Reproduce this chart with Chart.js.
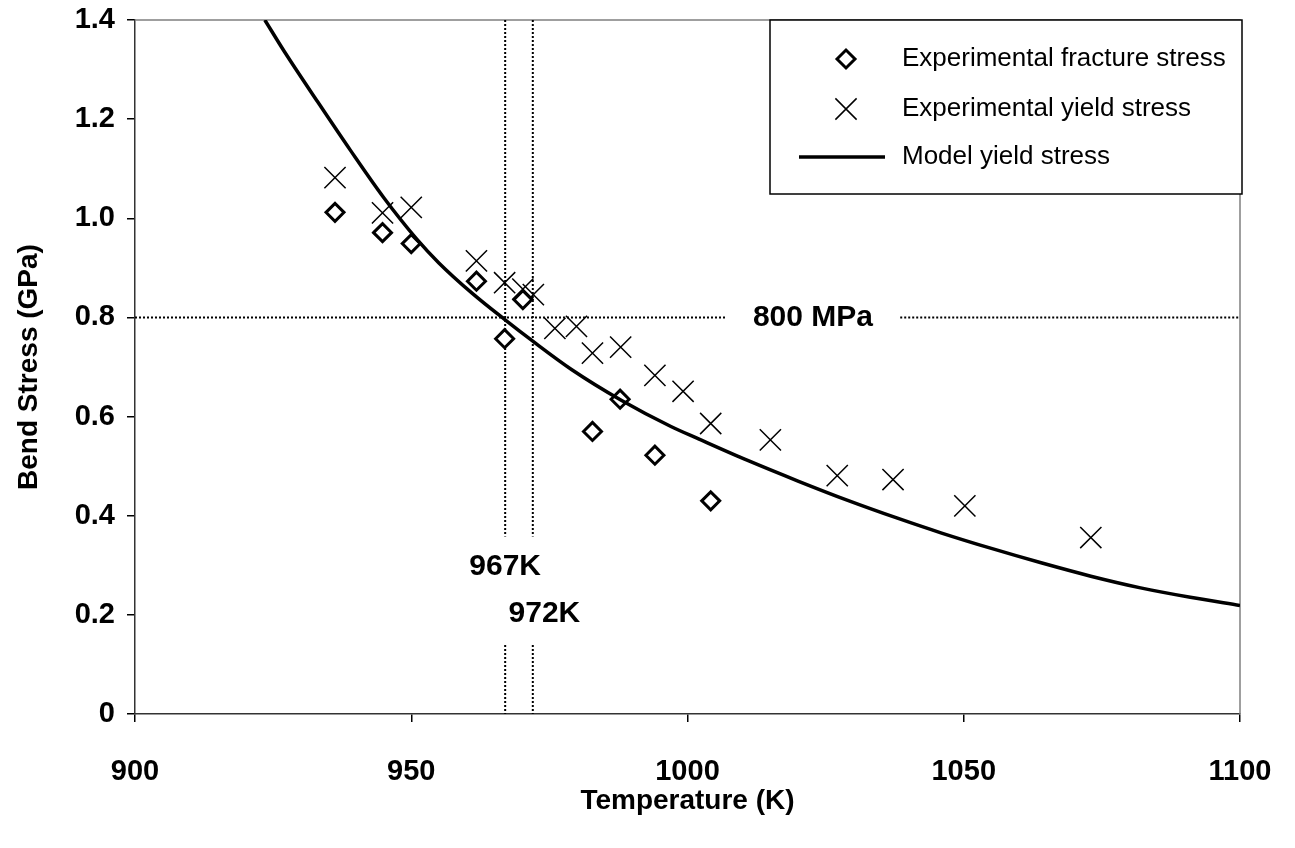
<!DOCTYPE html>
<html>
<head>
<meta charset="utf-8">
<script src="https://cdn.jsdelivr.net/npm/chart.js@4.4.0/dist/chart.umd.min.js"></script>
<style>
    html, body { margin: 0; padding: 0; background: #fff; }
    canvas { display: block; }
</style>
</head>
<body>
<canvas id="grafico" width="1295" height="848"></canvas>
<script>
// pontos
const fractureTemp = [936.2, 944.8, 950.0, 961.8, 966.9, 970.2, 982.8, 987.8, 994.1, 1004.2];
const fractureStress = [1.012, 0.971, 0.949, 0.873, 0.757, 0.836, 0.570, 0.635, 0.522, 0.430];

const yieldTemp = [936.2, 944.8, 950.0, 961.8, 966.9, 970.2, 972.1, 976.0, 979.9, 982.8,
    987.9, 994.1, 999.2, 1004.2, 1015.0, 1027.1, 1037.2, 1050.2, 1073.0];
const yieldStress = [1.082, 1.011, 1.022, 0.914, 0.870, 0.857, 0.846, 0.778, 0.782, 0.728,
    0.740, 0.683, 0.651, 0.586, 0.553, 0.481, 0.473, 0.420, 0.356];

const modelTemp = [923.5, 927, 933, 939, 945, 951, 955, 961, 967, 972, 979, 988, 997, 1002,
    1011, 1020, 1029, 1038, 1046, 1055, 1064, 1073, 1082, 1091, 1100];
const modelStress = [1.400, 1.337, 1.236, 1.137, 1.042, 0.958, 0.910, 0.849, 0.795, 0.752, 0.695,
    0.633, 0.580, 0.555, 0.511, 0.470, 0.431, 0.395, 0.365, 0.334, 0.305, 0.278, 0.2545, 0.2355, 0.219];

const refTemps = [967, 972];
const refStress = 0.8;

const xTicks = [900, 950, 1000, 1050, 1100];
const yTicks = [0, 0.2, 0.4, 0.6, 0.8, 1.0, 1.2, 1.4];

const FONTE = '"Liberation Sans", Arial, sans-serif';

function pares(xs, ys) {
    return xs.map((x, i) => ({ x: x, y: ys[i] }));
}

// linhas pontilhadas de referencia (com um buraco onde ficam os textos)
function linhaVertical(t) {
    return [{ x: t, y: 1.4 }, { x: t, y: 0.358 }, { x: t, y: null }, { x: t, y: 0.139 }, { x: t, y: 0 }];
}
const linhaHorizontal = [{ x: 900, y: refStress }, { x: 1007.1, y: refStress }, { x: 1020, y: null },
    { x: 1038.5, y: refStress }, { x: 1100, y: refStress }];

function pontilhado(dados) {
    return {
        label: 'ref',
        data: dados,
        showLine: true,
        spanGaps: false,
        borderColor: '#000',
        borderWidth: 2,
        borderDash: [2, 2],
        pointRadius: 0,
        order: 10,
    };
}

const textos = {
    id: 'textos',
    afterDatasetsDraw(chart) {
        const { ctx, scales: { x, y } } = chart;
        const itens = [
            { t: '800 MPa', x: 1022.7, y: refStress },
            { t: refTemps[0] + 'K', x: 967, y: 0.297 },
            { t: refTemps[1] + 'K', x: 974.1, y: 0.202 },
        ];
        ctx.save();
        ctx.font = 'bold 30px ' + FONTE;
        ctx.fillStyle = '#000';
        ctx.textAlign = 'center';
        ctx.textBaseline = 'middle';
        itens.forEach(it => ctx.fillText(it.t, x.getPixelForValue(it.x), y.getPixelForValue(it.y)));
        ctx.restore();
    }
};

const moldura = {
    id: 'moldura',
    beforeDatasetsDraw(chart) {
        const { ctx, chartArea: a } = chart;
        ctx.save();
        ctx.strokeStyle = '#808080';
        ctx.lineWidth = 1.5;
        ctx.beginPath();
        ctx.moveTo(a.left, a.top);
        ctx.lineTo(a.right, a.top);
        ctx.lineTo(a.right, a.bottom);
        ctx.stroke();
        ctx.restore();
    }
};

const legenda = {
    id: 'legenda',
    afterDraw(chart) {
        const ctx = chart.ctx;
        const linhas = [59, 109, 157];
        ctx.save();
        ctx.fillStyle = '#fff';
        ctx.fillRect(770, 20, 472, 174);
        ctx.strokeStyle = '#000';
        ctx.lineWidth = 1.5;
        ctx.strokeRect(770, 20, 472, 174);
        chart.data.datasets.filter(ds => ds.label !== 'ref').forEach((ds, i) => {
            const cy = linhas[i];
            ctx.strokeStyle = ds.borderColor;
            ctx.fillStyle = ds.backgroundColor || '#fff';
            ctx.lineWidth = ds.borderWidth;
            ctx.setLineDash([]);
            if (ds.showLine) {
                ctx.beginPath();
                ctx.moveTo(799, cy);
                ctx.lineTo(885, cy);
                ctx.stroke();
            } else {
                Chart.helpers.drawPoint(ctx, {
                    pointStyle: ds.pointStyle,
                    radius: ds.pointRadius,
                    borderWidth: ds.borderWidth,
                    rotation: 0,
                }, 846, cy);
            }
            ctx.fillStyle = '#000';
            ctx.font = '26px ' + FONTE;
            ctx.textAlign = 'left';
            ctx.textBaseline = 'middle';
            ctx.fillText(ds.label, 902, cy);
        });
        ctx.restore();
    }
};

// tira as margens automaticas das escalas para a area do grafico ficar fixa
function semMargens(scale) {
    scale.paddingLeft = 0;
    scale.paddingRight = 0;
    scale.paddingTop = 0;
    scale.paddingBottom = 0;
}

const canvas_grafico = document.getElementById('grafico');
const ctx = canvas_grafico.getContext('2d');

new Chart(ctx, {
    type: 'scatter',
    data: {
        datasets: [
            {
                label: 'Experimental fracture stress',
                data: pares(fractureTemp, fractureStress),
                pointStyle: 'rectRot',
                pointRadius: 9,
                borderWidth: 3,
                borderColor: '#000',
                backgroundColor: '#fff',
                order: 2,
            },
            {
                label: 'Experimental yield stress',
                data: pares(yieldTemp, yieldStress),
                pointStyle: 'crossRot',
                pointRadius: 15,
                borderWidth: 1.5,
                borderColor: '#000',
                backgroundColor: '#000',
                order: 3,
            },
            {
                label: 'Model yield stress',
                data: pares(modelTemp, modelStress),
                showLine: true,
                cubicInterpolationMode: 'monotone',
                borderColor: '#000',
                borderWidth: 3.5,
                pointRadius: 0,
                order: 1,
            },
            pontilhado(linhaVertical(refTemps[0])),
            pontilhado(linhaVertical(refTemps[1])),
            pontilhado(linhaHorizontal),
        ],
    },
    options: {
        responsive: false,
        animation: false,
        events: [],
        layout: { padding: { top: 20, right: 55, left: 0, bottom: 0 } },
        plugins: {
            legend: { display: false },
            tooltip: { enabled: false },
        },
        scales: {
            x: {
                type: 'linear',
                min: 900,
                max: 1100,
                afterFit(scale) { scale.height = 134; semMargens(scale); },
                afterBuildTicks(scale) { scale.ticks = xTicks.map(v => ({ value: v })); },
                grid: { drawOnChartArea: false, color: '#000', tickLength: 8, lineWidth: 1.5 },
                border: { color: '#333', width: 1.5 },
                ticks: {
                    color: '#000',
                    padding: 33,
                    font: { family: FONTE, size: 29, weight: 'bold' },
                    callback: v => String(v),
                },
                title: {
                    display: true,
                    text: 'Temperature (K)',
                    color: '#000',
                    font: { family: FONTE, size: 28, weight: 'bold' },
                    padding: { top: 0, bottom: 30 },
                },
            },
            y: {
                type: 'linear',
                min: 0,
                max: 1.4,
                afterFit(scale) { scale.width = 135; semMargens(scale); },
                afterBuildTicks(scale) { scale.ticks = yTicks.map(v => ({ value: v })); },
                grid: { drawOnChartArea: false, color: '#000', tickLength: 8, lineWidth: 1.5 },
                border: { color: '#333', width: 1.5 },
                ticks: {
                    color: '#000',
                    padding: 12,
                    font: { family: FONTE, size: 29, weight: 'bold' },
                    callback: v => (v === 0 ? '0' : v.toFixed(1)),
                },
                title: {
                    display: true,
                    text: 'Bend Stress (GPa)',
                    color: '#000',
                    font: { family: FONTE, size: 28, weight: 'bold' },
                    padding: { top: 12, bottom: 0 },
                },
            },
        },
    },
    plugins: [moldura, textos, legenda],
});
</script>
</body>
</html>
